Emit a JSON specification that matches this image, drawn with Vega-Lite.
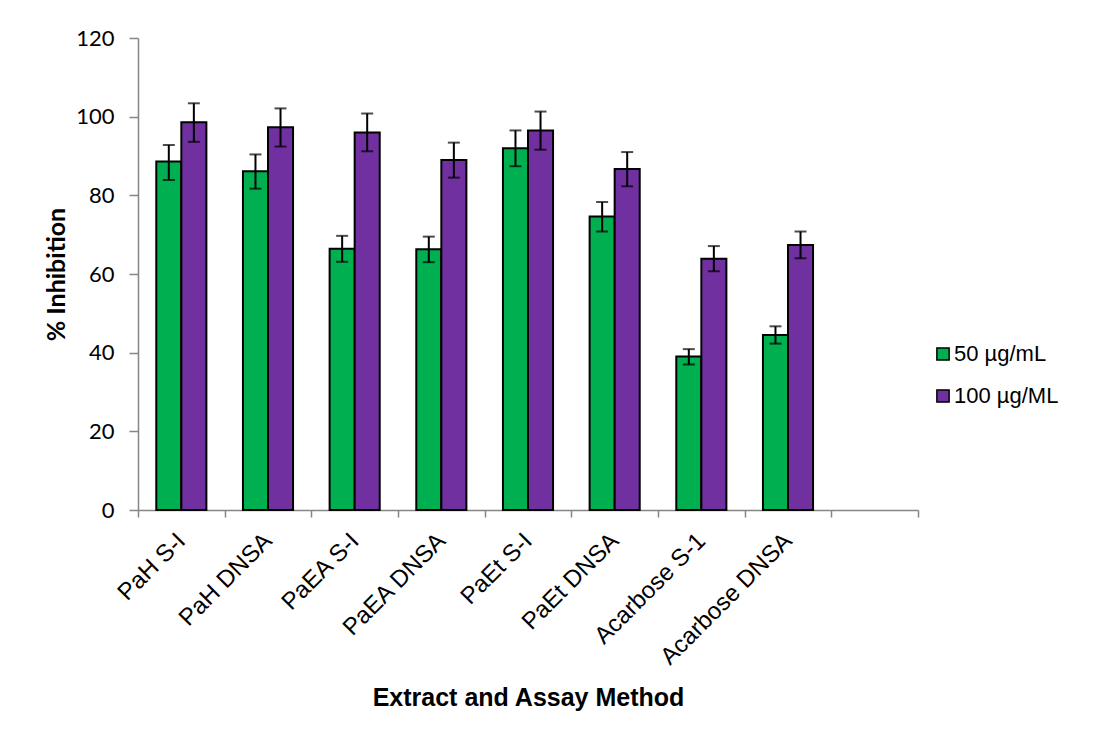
{
  "$schema": "https://vega.github.io/schema/vega-lite/v6.json",
  "width": 780,
  "height": 472,
  "autosize": {"type": "none"},
  "padding": {"left": 138, "top": 38, "right": 182, "bottom": 226},
  "background": "white",
  "config": {"view": {"stroke": null}},
  "data": {
    "values": [
      {"cat": "PaH S-I", "conc": "50 µg/mL", "value": 88.6, "lo": 83.9, "hi": 92.8},
      {"cat": "PaH S-I", "conc": "100 µg/ML", "value": 98.6, "lo": 93.6, "hi": 103.4},
      {"cat": "PaH DNSA", "conc": "50 µg/mL", "value": 86.1, "lo": 81.7, "hi": 90.4},
      {"cat": "PaH DNSA", "conc": "100 µg/ML", "value": 97.3, "lo": 92.4, "hi": 102.1},
      {"cat": "PaEA S-I", "conc": "50 µg/mL", "value": 66.4, "lo": 63.1, "hi": 69.7},
      {"cat": "PaEA S-I", "conc": "100 µg/ML", "value": 96.0, "lo": 91.2, "hi": 100.8},
      {"cat": "PaEA DNSA", "conc": "50 µg/mL", "value": 66.3, "lo": 63.0, "hi": 69.5},
      {"cat": "PaEA DNSA", "conc": "100 µg/ML", "value": 89.0, "lo": 84.5, "hi": 93.4},
      {"cat": "PaEt S-I", "conc": "50 µg/mL", "value": 92.0, "lo": 87.4, "hi": 96.5},
      {"cat": "PaEt S-I", "conc": "100 µg/ML", "value": 96.5, "lo": 91.6, "hi": 101.3},
      {"cat": "PaEt DNSA", "conc": "50 µg/mL", "value": 74.6, "lo": 70.8, "hi": 78.3},
      {"cat": "PaEt DNSA", "conc": "100 µg/ML", "value": 86.7, "lo": 82.3, "hi": 91.0},
      {"cat": "Acarbose S-1", "conc": "50 µg/mL", "value": 39.0, "lo": 37.0, "hi": 40.9},
      {"cat": "Acarbose S-1", "conc": "100 µg/ML", "value": 63.9, "lo": 60.7, "hi": 67.1},
      {"cat": "Acarbose DNSA", "conc": "50 µg/mL", "value": 44.5, "lo": 42.3, "hi": 46.7},
      {"cat": "Acarbose DNSA", "conc": "100 µg/ML", "value": 67.4, "lo": 64.0, "hi": 70.8}
    ]
  },
  "encoding": {
    "x": {
      "field": "cat",
      "type": "nominal",
      "sort": null,
      "scale": {
        "domain": ["PaH S-I", "PaH DNSA", "PaEA S-I", "PaEA DNSA", "PaEt S-I", "PaEt DNSA", "Acarbose S-1", "Acarbose DNSA", " "],
        "paddingInner": 0,
        "paddingOuter": 0
      },
      "axis": {
        "title": "Extract and Assay Method",
        "titleFont": "Liberation Sans",
        "titleFontSize": 25,
        "titleFontWeight": "bold",
        "titleColor": "black",
        "titlePadding": 16,
        "labelFont": "Liberation Sans",
        "labelFontSize": 24,
        "labelColor": "black",
        "labelAngle": -45,
        "labelAlign": "right",
        "labelBaseline": "middle",
        "labelPadding": 20,
        "tickBand": "extent",
        "tickSize": 7,
        "tickColor": "#868686",
        "tickWidth": 1.5,
        "domainColor": "#868686",
        "domainWidth": 1.5,
        "grid": false
      }
    },
    "xOffset": {
      "field": "conc",
      "type": "nominal",
      "sort": null,
      "scale": {"domain": ["50 µg/mL", "100 µg/ML"], "paddingInner": 0, "paddingOuter": 0.73}
    }
  },
  "layer": [
    {
      "mark": {"type": "bar", "stroke": "black", "strokeWidth": 2},
      "encoding": {
        "y": {
          "field": "value",
          "type": "quantitative",
          "scale": {"domain": [0, 120], "nice": false},
          "axis": {
            "title": "% Inhibition",
            "titleFont": "Lato",
            "titleFontSize": 25,
            "titleFontWeight": "bold",
            "titleColor": "black",
            "titlePadding": 6,
            "values": [0, 20, 40, 60, 80, 100, 120],
            "labelFont": "Lato",
            "labelFontSize": 22,
            "labelColor": "black",
            "labelPadding": 15,
            "tickSize": 9,
            "tickColor": "#868686",
            "tickWidth": 1.5,
            "domainColor": "#868686",
            "domainWidth": 1.5,
            "grid": false
          }
        },
        "color": {
          "field": "conc",
          "type": "nominal",
          "sort": null,
          "scale": {"domain": ["50 µg/mL", "100 µg/ML"], "range": ["#00B050", "#7030A0"]},
          "legend": {
            "title": null,
            "orient": "none",
            "legendX": 794,
            "legendY": 305,
            "symbolType": "square",
            "symbolSize": 150,
            "symbolStrokeColor": "black",
            "symbolStrokeWidth": 1.5,
            "symbolOpacity": 1,
            "labelFont": "Liberation Sans",
            "labelFontSize": 22,
            "labelColor": "black",
            "labelOffset": 0,
            "rowPadding": 20
          }
        }
      }
    },
    {
      "mark": {"type": "rule", "color": "black", "strokeWidth": 2},
      "encoding": {
        "y": {"field": "lo", "type": "quantitative"},
        "y2": {"field": "hi"}
      }
    },
    {
      "mark": {"type": "tick", "color": "black", "thickness": 2, "size": 12, "orient": "horizontal"},
      "encoding": {"y": {"field": "lo", "type": "quantitative"}}
    },
    {
      "mark": {"type": "tick", "color": "black", "thickness": 2, "size": 12, "orient": "horizontal"},
      "encoding": {"y": {"field": "hi", "type": "quantitative"}}
    }
  ]
}
